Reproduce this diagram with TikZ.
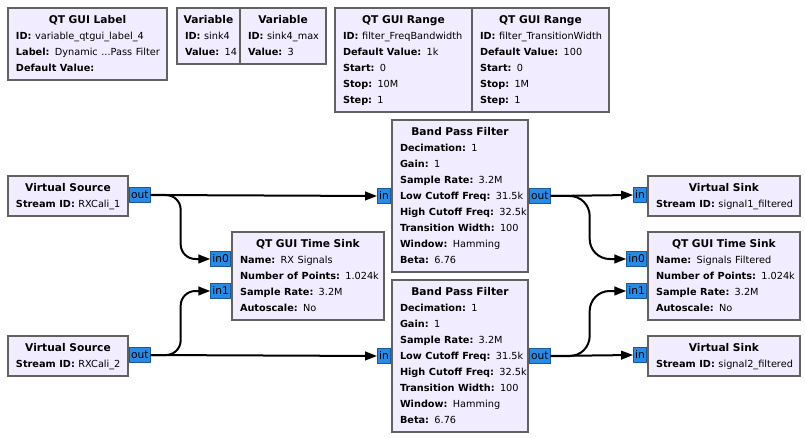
\documentclass[tikz,border=0pt]{standalone}
\usepackage{fontspec}
\setmainfont{DejaVu Sans}
\usetikzlibrary{arrows.meta,calc}
\definecolor{blkfill}{HTML}{F1ECFF}
\definecolor{blkdraw}{HTML}{616161}
\definecolor{portfill}{HTML}{288AE4}
\definecolor{portdraw}{HTML}{1B5A96}
\newcommand\prm[2]{\mbox{\fontsize{7.3}{12}\selectfont\strut\textbf{#1:} #2}}
\newcommand\gblock[6]{%
  \pgfmathsetmacro\gbtw{(#4-16)*0.75}%
  \node[gblk, text width=\gbtw pt, anchor=north west] (#1) at (#2,#3)
    {\makebox[\linewidth]{\strut\textbf{#5}}\\#6};}
\begin{document}
\begin{tikzpicture}[x=0.75pt, y=-0.75pt,
  gblk/.style={rectangle, draw=blkdraw, fill=blkfill, line width=1.5pt,
    inner xsep=6pt, inner ysep=3pt, align=left,
    font=\fontsize{8}{12}\selectfont},
  port/.style={rectangle, draw=portdraw, fill=portfill, line width=0.75pt,
    inner xsep=1.2pt, inner ysep=0pt, minimum height=11.25pt,
    text height=6.2pt, text depth=1.3pt, font=\fontsize{8}{10}\selectfont},
  conn/.style={line width=1.5pt, -{Triangle[length=9pt,width=6.5pt]}}]
\fill[white] (0,0) rectangle (805,438);
\useasboundingbox (0,0) rectangle (805,438);

% variable-type blocks
\gblock{lbl}{7}{7}{159}{QT GUI Label}{\prm{ID}{variable\_qtgui\_label\_4}\\\prm{Label}{Dynamic ...Pass Filter}\\\prm{Default Value}{}}
\gblock{va}{176}{7}{63}{Variable}{\prm{ID}{sink4}\\\prm{Value}{14}}
\gblock{vb}{239}{7}{86}{Variable}{\prm{ID}{sink4\_max}\\\prm{Value}{3}}
\gblock{ra}{334}{7}{137}{QT GUI Range}{\prm{ID}{filter\_FreqBandwidth}\\\prm{Default Value}{1k}\\\prm{Start}{0}\\\prm{Stop}{10M}\\\prm{Step}{1}}
\gblock{rb}{471}{7}{137}{QT GUI Range}{\prm{ID}{filter\_TransitionWidth}\\\prm{Default Value}{100}\\\prm{Start}{0}\\\prm{Stop}{1M}\\\prm{Step}{1}}

% flow blocks
\gblock{s1}{7}{175}{120}{Virtual Source}{\prm{Stream ID}{RXCali\_1}}
\gblock{s2}{7}{335}{120}{Virtual Source}{\prm{Stream ID}{RXCali\_2}}
\gblock{ts1}{231}{231}{152}{QT GUI Time Sink}{\prm{Name}{RX Signals}\\\prm{Number of Points}{1.024k}\\\prm{Sample Rate}{3.2M}\\\prm{Autoscale}{No}}
\gblock{bpf1}{391}{119}{136}{Band Pass Filter}{\prm{Decimation}{1}\\\prm{Gain}{1}\\\prm{Sample Rate}{3.2M}\\\prm{Low Cutoff Freq}{31.5k}\\\prm{High Cutoff Freq}{32.5k}\\\prm{Transition Width}{100}\\\prm{Window}{Hamming}\\\prm{Beta}{6.76}}
\gblock{bpf2}{391}{279}{136}{Band Pass Filter}{\prm{Decimation}{1}\\\prm{Gain}{1}\\\prm{Sample Rate}{3.2M}\\\prm{Low Cutoff Freq}{31.5k}\\\prm{High Cutoff Freq}{32.5k}\\\prm{Transition Width}{100}\\\prm{Window}{Hamming}\\\prm{Beta}{6.76}}
\gblock{vs1}{647}{175}{152}{Virtual Sink}{\prm{Stream ID}{signal1\_filtered}}
\gblock{ts2}{647}{231}{152}{QT GUI Time Sink}{\prm{Name}{Signals Filtered}\\\prm{Number of Points}{1.024k}\\\prm{Sample Rate}{3.2M}\\\prm{Autoscale}{No}}
\gblock{vs2}{647}{335}{152}{Virtual Sink}{\prm{Stream ID}{signal2\_filtered}}

% ports
\node[port, anchor=west] (s1o) at ($(s1.north east)+(0,20)$) {out};
\node[port, anchor=west] (s2o) at ($(s2.north east)+(0,20)$) {out};
\node[port, anchor=east] (ts1i0) at ($(ts1.north west)+(0,28)$) {in0};
\node[port, anchor=east] (ts1i1) at ($(ts1.north west)+(0,60)$) {in1};
\node[port, anchor=east] (bpf1i) at (bpf1.west) {in};
\node[port, anchor=west] (bpf1o) at (bpf1.east) {out};
\node[port, anchor=east] (bpf2i) at (bpf2.west) {in};
\node[port, anchor=west] (bpf2o) at (bpf2.east) {out};
\node[port, anchor=east] (vs1i) at ($(vs1.north west)+(0,20)$) {in};
\node[port, anchor=east] (ts2i0) at ($(ts2.north west)+(0,28)$) {in0};
\node[port, anchor=east] (ts2i1) at ($(ts2.north west)+(0,60)$) {in1};
\node[port, anchor=east] (vs2i) at ($(vs2.north west)+(0,20)$) {in};

% connections
\draw[conn] (s1o.east) -- (bpf1i.west);
\draw[conn, rounded corners=11pt] (s1o.east) -- ++(30,0) |- (ts1i0.west);
\draw[conn] (s2o.east) -- (bpf2i.west);
\draw[conn, rounded corners=11pt] (s2o.east) -- ++(30,0) |- (ts1i1.west);
\draw[conn] (bpf1o.east) -- (vs1i.west);
\draw[conn, rounded corners=15pt] (bpf1o.east) -- ++(39,0) |- (ts2i0.west);
\draw[conn] (bpf2o.east) -- (vs2i.west);
\draw[conn, rounded corners=15pt] (bpf2o.east) -- ++(39,0) |- (ts2i1.west);
\end{tikzpicture}
\end{document}
